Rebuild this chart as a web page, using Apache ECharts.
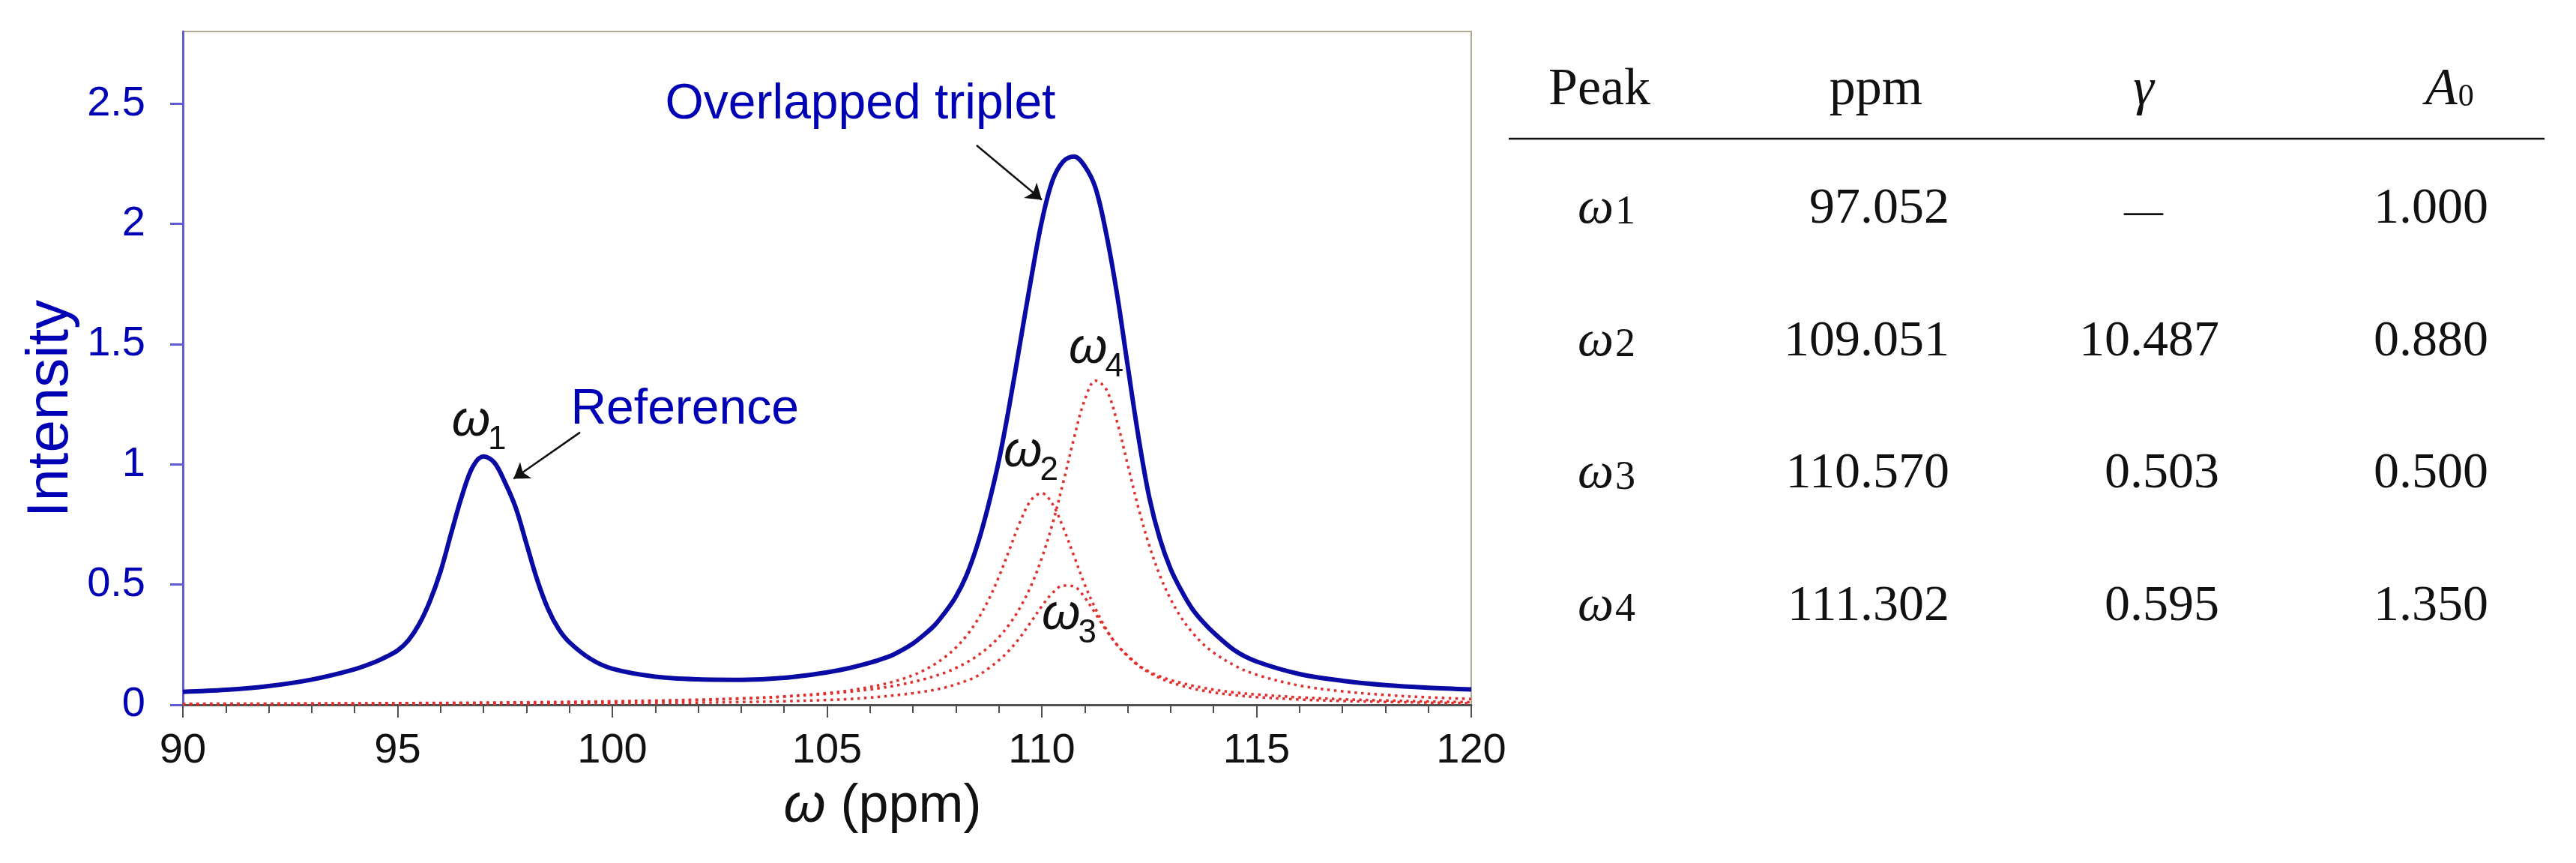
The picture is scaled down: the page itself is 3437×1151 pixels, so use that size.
<!DOCTYPE html>
<html>
<head>
<meta charset="utf-8">
<script src="https://cdn.jsdelivr.net/npm/echarts@6/dist/echarts.min.js"></script>
<style>
    html, body { margin: 0; padding: 0; background: #fff; }
    #chart1 { width: 3437px; height: 1151px; }
</style>
</head>
<body>
<div id="chart1"></div>
<script>
// chemical shift samples (ppm) shared by every curve
var ppm = [90, 91, 92, 93, 94, 94.5, 94.75, 95, 95.25, 95.5, 95.75, 96, 96.25, 96.5, 96.75, 97, 97.25, 97.5, 97.75, 98, 98.25,
    98.5, 98.75, 99, 99.5, 100, 101, 102, 103, 104, 105, 105.5, 106, 106.25, 106.5, 106.75, 107, 107.25, 107.5, 107.75, 108,
    108.25, 108.5, 108.75, 109, 109.25, 109.5, 109.75, 110, 110.25, 110.5, 110.75, 111, 111.25, 111.5, 111.75, 112, 112.25,
    112.5, 112.75, 113, 113.25, 113.5, 113.75, 114, 114.5, 115, 116, 117, 118, 119, 120]

// solid blue curve: reference peak + overlapped triplet
var totalIntensity = [0.054, 0.062, 0.078, 0.105, 0.148, 0.180, 0.201, 0.226, 0.268, 0.335, 0.430, 0.555, 0.715, 0.870, 0.990, 1.033, 1.008, 0.925, 0.820, 0.670, 0.520,
    0.400, 0.315, 0.260, 0.190, 0.150, 0.117, 0.106, 0.104, 0.112, 0.135, 0.152, 0.175, 0.189, 0.205, 0.228, 0.255, 0.290, 0.330, 0.385, 0.450,
    0.540, 0.665, 0.825, 1.015, 1.250, 1.510, 1.770, 2.010, 2.180, 2.260, 2.280, 2.240, 2.150, 1.960, 1.710, 1.410, 1.115,
    0.865, 0.690, 0.565, 0.475, 0.400, 0.345, 0.300, 0.225, 0.180, 0.128, 0.100, 0.082, 0.071, 0.064]

// dotted red components
var omega2 = [0.0032, 0.0035, 0.0039, 0.0044, 0.0049, 0.0053, 0.0054, 0.0056, 0.0058, 0.0060, 0.0062, 0.0064, 0.0067, 0.0069, 0.0072, 0.0075, 0.0078, 0.0081, 0.0084, 0.0088, 0.0091,
    0.0095, 0.0100, 0.0104, 0.0114, 0.0126, 0.0155, 0.0195, 0.0254, 0.0342, 0.0485, 0.059, 0.074, 0.083, 0.094, 0.107, 0.123, 0.143, 0.168, 0.199, 0.238,
    0.288, 0.352, 0.433, 0.532, 0.647, 0.763, 0.851, 0.880, 0.835, 0.736, 0.619, 0.500, 0.400, 0.315, 0.250, 0.205, 0.165,
    0.138, 0.118, 0.103, 0.091, 0.080, 0.071, 0.063, 0.051, 0.043, 0.031, 0.023, 0.018, 0.014, 0.011]

var omega3 = [0.0016, 0.0017, 0.0019, 0.0021, 0.0024, 0.0025, 0.0026, 0.0027, 0.0028, 0.0029, 0.0030, 0.0031, 0.0032, 0.0033, 0.0034, 0.0035, 0.0037, 0.0038, 0.0040, 0.0041, 0.0043,
    0.0045, 0.0047, 0.0049, 0.0053, 0.0058, 0.0071, 0.0088, 0.0112, 0.0147, 0.020, 0.024, 0.030, 0.034, 0.038, 0.043, 0.048, 0.055, 0.062, 0.072, 0.085,
    0.100, 0.120, 0.150, 0.185, 0.228, 0.282, 0.345, 0.410, 0.465, 0.496, 0.492, 0.446, 0.379, 0.310, 0.250, 0.202, 0.163,
    0.134, 0.111, 0.093, 0.080, 0.068, 0.059, 0.051, 0.040, 0.032, 0.022, 0.016, 0.012, 0.009, 0.007]

var omega4 = [0.0041, 0.0045, 0.0050, 0.0056, 0.0063, 0.0066, 0.0068, 0.0070, 0.0072, 0.0075, 0.0077, 0.0080, 0.0082, 0.0085, 0.0088, 0.0091, 0.0095, 0.0098, 0.0102, 0.0105, 0.0110,
    0.0114, 0.0118, 0.0123, 0.0134, 0.0146, 0.0175, 0.0214, 0.0267, 0.0344, 0.0458, 0.054, 0.064, 0.070, 0.077, 0.085, 0.095, 0.106, 0.119, 0.134, 0.153,
    0.176, 0.204, 0.238, 0.281, 0.336, 0.406, 0.495, 0.610, 0.753, 0.925, 1.109, 1.268, 1.348, 1.312, 1.179, 0.999, 0.819,
    0.664, 0.538, 0.439, 0.362, 0.302, 0.254, 0.217, 0.162, 0.125, 0.080, 0.056, 0.041, 0.031, 0.024]

var yTickValues = [0, 0.5, 1, 1.5, 2, 2.5]

// fitted peak table
var peakIndex = ['1', '2', '3', '4']
var peakPpm = [97.052, 109.051, 110.570, 111.302]
var peakGamma = [null, 10.487, 0.503, 0.595]
var peakA0 = [1.000, 0.880, 0.500, 1.350]

var SANS = 'Arial, "Liberation Sans", sans-serif'
var SERIF = '"Palatino Linotype", "Book Antiqua", Palatino, "Liberation Serif", serif'
var BLUE_TEXT = '#0000b4'
var RED = '#e0302e'

function pairs (ys) {
    return ppm.map(function (x, i) { return [x, ys[i]] })
}

function dotted (name, ys) {
    return {
        name: name,
        type: 'line',
        data: pairs(ys),
        showSymbol: false,
        smooth: 0.35,
        z: 2,
        lineStyle: { color: RED, width: 3.5, type: [3.5, 5.5], cap: 'butt' }
    }
}

var myChart = echarts.init(document.getElementById('chart1'))

var option = {
    animation: false,
    backgroundColor: '#fff',
    grid: {
        left: 244,
        right: 1474,
        top: 42,
        bottom: 211,
        show: true,
        borderColor: '#b3aa94',
        borderWidth: 2
    },
    xAxis: {
        type: 'value',
        min: 90,
        max: 120,
        interval: 5,
        axisLine: { onZero: false, lineStyle: { color: '#505050', width: 3 } },
        axisTick: { length: 17, lineStyle: { color: '#505050', width: 2 } },
        minorTick: { show: true, splitNumber: 5, length: 11, lineStyle: { color: '#505050', width: 2 } },
        splitLine: { show: false },
        axisLabel: { fontSize: 56, fontFamily: SANS, color: '#111', margin: 34 },
        name: '{i|ω} (ppm)',
        nameLocation: 'middle',
        nameGap: 100,
        nameTextStyle: {
            fontSize: 72,
            fontFamily: SANS,
            color: '#111',
            padding: [0, 0, 0, 148],
            rich: { i: { fontSize: 72, fontFamily: SANS, fontStyle: 'italic', color: '#111' } }
        }
    },
    yAxis: {
        type: 'value',
        min: 0,
        max: 2.8,
        interval: 0.5,
        axisLine: { show: true, lineStyle: { color: '#5f5fd2', width: 3 } },
        axisTick: { show: true, length: 17, customValues: yTickValues, lineStyle: { color: '#5f5fd2', width: 3 } },
        splitLine: { show: false },
        axisLabel: { customValues: yTickValues, fontSize: 56, fontFamily: SANS, color: BLUE_TEXT, margin: 50 }
    },
    series: [
        dotted('ω2', omega2),
        dotted('ω3', omega3),
        dotted('ω4', omega4),
        {
            name: 'total',
            type: 'line',
            data: pairs(totalIntensity),
            showSymbol: false,
            smooth: 0.35,
            z: 3,
            lineStyle: { color: '#0a0aa5', width: 6 },
            markLine: {
                silent: true,
                symbol: ['none', 'arrow'],
                symbolSize: 20,
                label: { show: false },
                lineStyle: { color: '#111', width: 2.5, type: 'solid' },
                data: [
                    [{ coord: [108.48, 2.327] }, { coord: [110.0, 2.10] }],
                    [{ coord: [99.25, 1.133] }, { coord: [97.7, 0.94] }]
                ]
            }
        }
    ]
}
myChart.setOption(option)

// text measuring, so subscripts sit right after their glyph
var measureCtx = document.createElement('canvas').getContext('2d')
function textWidth (text, size, family, italic) {
    measureCtx.font = (italic ? 'italic ' : '') + size + 'px ' + family
    return measureCtx.measureText(text).width
}

// annotations anchored in data space: (left, baseline)
function at (x, y) {
    return myChart.convertToPixel({ gridIndex: 0 }, [x, y])
}

function label (p, text, size, color, family, italic, align) {
    return {
        type: 'text',
        x: p[0],
        y: p[1] - 0.35 * size,
        z: 10,
        style: {
            text: text,
            fontSize: size,
            fontFamily: family,
            fontStyle: italic ? 'italic' : 'normal',
            fill: color,
            align: align || 'left',
            verticalAlign: 'middle'
        }
    }
}

var graphics = []
graphics.push(label(at(101.23, 2.422), 'Overlapped triplet', 66, BLUE_TEXT, SANS))
graphics.push(label(at(99.03, 1.154), 'Reference', 66, BLUE_TEXT, SANS))

var omegaMarks = [[96.26, 1.104, '1'], [109.11, 0.976, '2'], [110.0, 0.300, '3'], [110.63, 1.406, '4']]
var omegaW = textWidth('ω', 66, SANS, true)
omegaMarks.forEach(function (m) {
    var p = at(m[0], m[1])
    graphics.push(label(p, 'ω', 66, '#111', SANS, true))
    graphics.push(label([p[0] + omegaW - 3, p[1] + 16], m[2], 44, '#111', SANS))
})

// y-axis title
graphics.push({
    type: 'text',
    x: 68,
    y: 545,
    rotation: Math.PI / 2,
    style: { text: 'Intensity', fontSize: 78, fontFamily: SANS, fill: BLUE_TEXT, align: 'center', verticalAlign: 'middle' }
})

// table on the right
var head = 145
graphics.push(label([2066, head], 'Peak', 70, '#111', SERIF))
graphics.push(label([2503, head], 'ppm', 70, '#111', SERIF, false, 'center'))
graphics.push(label([2860, head], 'γ', 70, '#111', SERIF, true, 'center'))
graphics.push(label([3236, head], 'A', 70, '#111', SERIF, true))
graphics.push(label([3236 + textWidth('A', 70, SERIF, true) + 1, head], '0', 42, '#111', SERIF))
graphics.push({
    type: 'line',
    shape: { x1: 2013, y1: 185, x2: 3395, y2: 185 },
    style: { stroke: '#111', lineWidth: 2.5 }
})

var tableOmegaW = textWidth('ω', 68, SERIF, true)
peakIndex.forEach(function (n, i) {
    var base = 303 + i * 176.7
    graphics.push(label([2105, base], 'ω', 68, '#111', SERIF, true))
    graphics.push(label([2105 + tableOmegaW + 2, base], n, 54, '#111', SERIF))
    graphics.push(label([2601, base], peakPpm[i].toFixed(3), 68, '#111', SERIF, false, 'right'))
    if (peakGamma[i] === null) {
        graphics.push(label([2860, base], '—', 52, '#111', SERIF, false, 'center'))
    } else {
        graphics.push(label([2961, base], peakGamma[i].toFixed(3), 68, '#111', SERIF, false, 'right'))
    }
    graphics.push(label([3320, base], peakA0[i].toFixed(3), 68, '#111', SERIF, false, 'right'))
})

myChart.setOption({ graphic: graphics })
</script>
</body>
</html>
